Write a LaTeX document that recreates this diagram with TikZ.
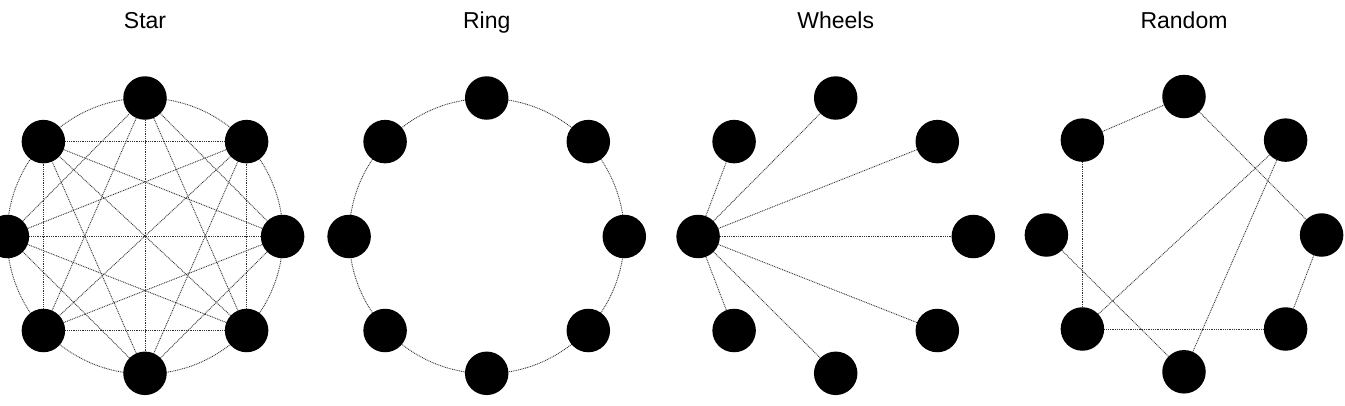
\documentclass[tikz,border=0pt]{standalone}
\usepackage{fontspec}
\setmainfont{Liberation Sans}
\usetikzlibrary{backgrounds}
\begin{document}
\begin{tikzpicture}[x=1pt,y=-1pt,
  vtx/.style={circle,fill=black,minimum size=43.5pt,inner sep=0pt},
  edge/.style={draw=black!80,line width=0.9pt,dash pattern=on 0.9pt off 0.9pt},
  ttl/.style={font=\fontsize{23}{26}\selectfont,anchor=base,inner sep=0pt}]
\useasboundingbox (0,0) rectangle (1345,405);
\clip (0,0) rectangle (1345,405);
% titles
\node[ttl] (tstar) at (145,28) {Star};
\node[ttl] (tring) at (486.7,28) {Ring};
\node[ttl] (twheel) at (835.7,28) {Wheels};
\node[ttl] (trand) at (1184,28) {Random};
% centres
\coordinate (sc) at (145,236);
\coordinate (gc) at (486.7,236);
\coordinate (wc) at (835.7,236);
\coordinate (xc) at (1184,234.5);
% vertices: 0=top, clockwise
\foreach \g/\cx/\cy in {s/145/236, g/486.7/236, w/835.7/236, x/1184/234.5}{
  \foreach \n/\dx/\dy in {0/0/-138, 1/101.6/-94.4, 2/137.6/0.5, 3/101.6/94.5, 4/0/137.3, 5/-101.6/94.5, 6/-137.6/0.5, 7/-101.6/-94.4}{
    \node[vtx] (\g\n) at (\cx+\dx,\cy+\dy) {};
  }
}
\begin{scope}[on background layer]
  \draw[edge] (sc) circle[radius=138];
  \draw[edge] (gc) circle[radius=137.6];
\end{scope}
% Star: all non-adjacent chords
\foreach \a/\b in {0/2,1/3,2/4,3/5,4/6,5/7,6/0,7/1,0/3,1/4,2/5,3/6,4/7,5/0,6/1,7/2,0/4,1/5,2/6,3/7}
  \draw[edge] (s\a) -- (s\b);
% Wheels
\foreach \b in {0,1,2,3,4,5,7}
  \draw[edge] (w6) -- (w\b);
% Random
\foreach \a/\b in {7/0,0/2,7/5,5/1,5/3,6/4,1/4,2/3}
  \draw[edge] (x\a) -- (x\b);
\end{tikzpicture}
\end{document}
